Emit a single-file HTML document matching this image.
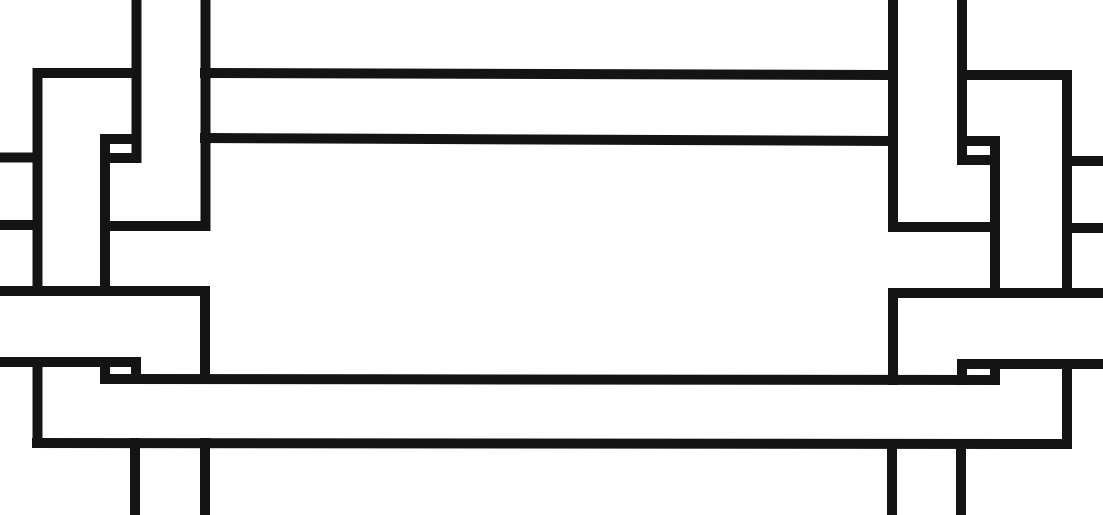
<!DOCTYPE html>
<html><head><meta charset="utf-8"><style>html,body{margin:0;padding:0;background:#fff}svg{display:block}</style></head>
<body>
<svg width="1103" height="515" viewBox="0 0 1103 515" xmlns="http://www.w3.org/2000/svg">
<g stroke="#141414" stroke-width="10" stroke-linecap="square" fill="none">
<!-- left -->
<line x1="136.5" y1="-5" x2="136.5" y2="158"/>
<line x1="205.5" y1="-5" x2="205.5" y2="226"/>
<line x1="38" y1="73" x2="136" y2="73"/>
<line x1="205" y1="73" x2="893" y2="75"/>
<line x1="205" y1="138" x2="893" y2="141"/>
<line x1="37.5" y1="73" x2="37.5" y2="291"/>
<line x1="-5" y1="157.5" x2="37" y2="157.5"/>
<line x1="-5" y1="225" x2="37" y2="225"/>
<line x1="105" y1="139" x2="105" y2="291"/>
<line x1="105" y1="139" x2="136" y2="139"/>
<line x1="110" y1="158" x2="136" y2="158"/>
<line x1="105" y1="226" x2="205" y2="226"/>
<line x1="-5" y1="291" x2="205" y2="291"/>
<line x1="205" y1="291" x2="205" y2="370"/>
<line x1="-5" y1="362" x2="136" y2="362"/>
<line x1="136" y1="362" x2="136" y2="379"/>
<line x1="105" y1="362" x2="105" y2="379"/>
<line x1="105" y1="379" x2="995" y2="380"/>
<line x1="37.5" y1="362" x2="37.5" y2="443"/>
<line x1="37" y1="443" x2="1067" y2="444"/>
<line x1="135" y1="443" x2="135" y2="520"/>
<line x1="205" y1="443" x2="205" y2="520"/>
<!-- right -->
<line x1="893" y1="-5" x2="893" y2="227"/>
<line x1="962" y1="-5" x2="962" y2="160"/>
<line x1="962" y1="75" x2="1067" y2="75"/>
<line x1="1067" y1="75" x2="1067" y2="293"/>
<line x1="1067" y1="161" x2="1108" y2="161"/>
<line x1="1067" y1="228" x2="1108" y2="228"/>
<line x1="962" y1="141" x2="995" y2="141"/>
<line x1="995" y1="141" x2="995" y2="293"/>
<line x1="962" y1="160" x2="990" y2="160"/>
<line x1="893" y1="227" x2="995" y2="227"/>
<line x1="893" y1="293" x2="1108" y2="293"/>
<line x1="893" y1="293" x2="893" y2="380"/>
<line x1="962" y1="364" x2="1108" y2="364"/>
<line x1="962" y1="364" x2="962" y2="380"/>
<line x1="995" y1="364" x2="995" y2="380"/>
<line x1="1067" y1="364" x2="1067" y2="444"/>
<line x1="892" y1="444" x2="892" y2="520"/>
<line x1="961" y1="444" x2="961" y2="520"/>
</g>
</svg>
</body></html>
